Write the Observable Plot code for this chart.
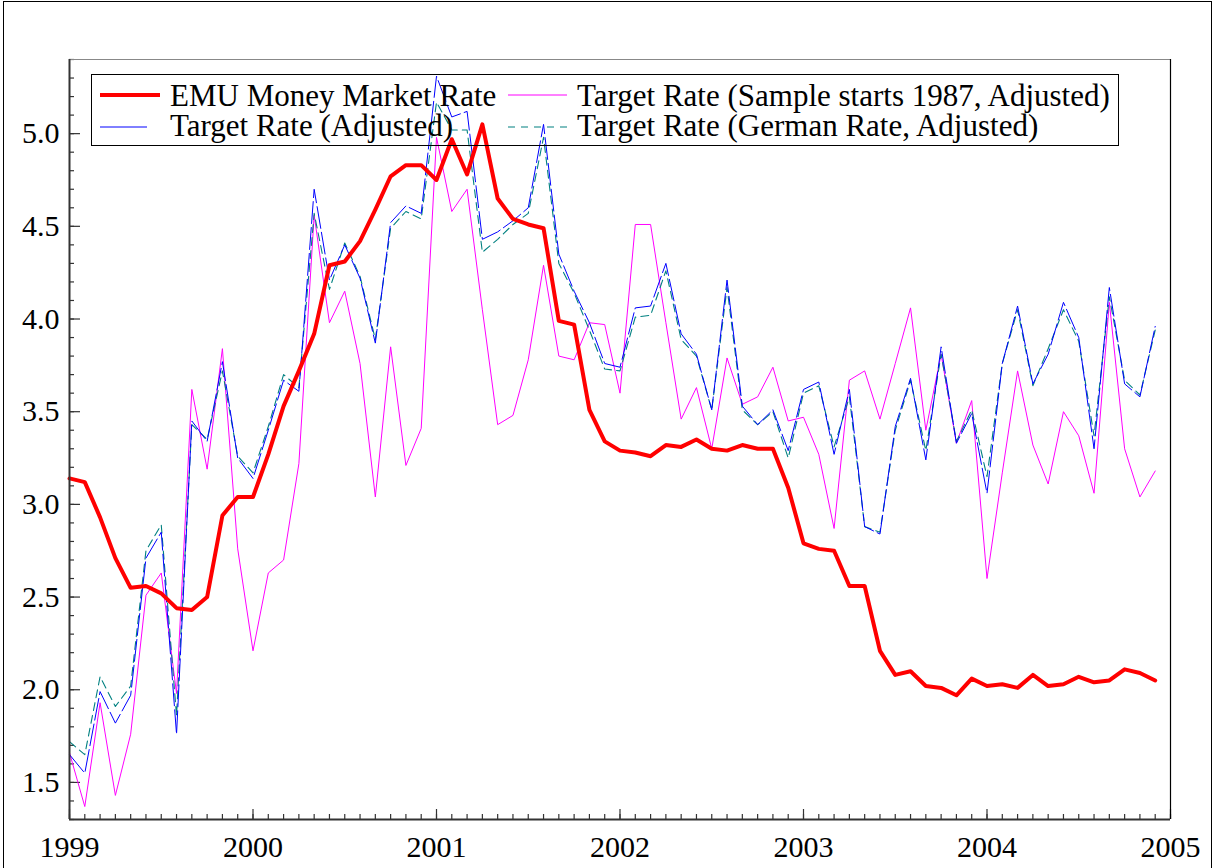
<!DOCTYPE html>
<html>
<head>
<meta charset="utf-8">
<script src="https://cdn.jsdelivr.net/npm/d3@7"></script>
<script src="https://cdn.jsdelivr.net/npm/@observablehq/plot@0.6"></script>
<style>
  html, body { margin: 0; padding: 0; background: #fff; }
  #wrap { position: relative; width: 1213px; height: 868px; overflow: hidden; background: #fff; }
  #chart svg { display: block; }
  #overlay { position: absolute; left: 0; top: 0; pointer-events: none; }
  #border { position: absolute; left: 3px; top: 1px; width: 1207px; height: 900px; border: 1.5px solid #000; pointer-events: none; }
</style>
</head>
<body>
<div id="wrap">
  <div id="chart"></div>
  <svg id="overlay" width="1213" height="868"></svg>
  <div id="border"></div>
</div>
<script>
// ---- Data (monthly, Jan 1999 – Dec 2004) ----
const startYear = 1999;
const emuRate = [
  3.14, 3.12, 2.93, 2.71, 2.55, 2.56, 2.52, 2.44, 2.43, 2.50, 2.94, 3.04,
  3.04, 3.27, 3.53, 3.72, 3.92, 4.29, 4.31, 4.42, 4.59, 4.77, 4.83, 4.83,
  4.75, 4.97, 4.78, 5.05, 4.65, 4.54, 4.51, 4.49, 3.99, 3.97, 3.51, 3.34,
  3.29, 3.28, 3.26, 3.32, 3.31, 3.35, 3.30, 3.29, 3.32, 3.30, 3.30, 3.09,
  2.79, 2.76, 2.75, 2.56, 2.56, 2.21, 2.08, 2.10, 2.02, 2.01, 1.97, 2.06,
  2.02, 2.03, 2.01, 2.08, 2.02, 2.03, 2.07, 2.04, 2.05, 2.11, 2.09, 2.05
];
const targetAdjusted = [
  1.65, 1.55, 1.99, 1.82, 1.97, 2.71, 2.85, 1.76, 3.45, 3.34, 3.77, 3.25,
  3.14, 3.40, 3.67, 3.61, 4.70, 4.21, 4.40, 4.22, 3.87, 4.52, 4.61, 4.57,
  5.31, 5.09, 5.12, 4.43, 4.47, 4.53, 4.60, 5.05, 4.35, 4.15, 3.98, 3.76,
  3.74, 4.06, 4.07, 4.30, 3.92, 3.81, 3.51, 4.21, 3.53, 3.43, 3.51, 3.29,
  3.62, 3.66, 3.27, 3.62, 2.88, 2.84, 3.42, 3.68, 3.24, 3.85, 3.33, 3.49,
  3.06, 3.76, 4.07, 3.65, 3.81, 4.09, 3.90, 3.30, 4.17, 3.65, 3.58, 3.96
];
const targetSample1987 = [
  1.66, 1.37, 1.93, 1.43, 1.76, 2.51, 2.63, 1.98, 3.62, 3.19, 3.84, 2.76,
  2.21, 2.63, 2.70, 3.22, 4.56, 3.98, 4.15, 3.76, 3.04, 3.85, 3.21, 3.41,
  4.98, 4.58, 4.70, 4.05, 3.43, 3.48, 3.78, 4.29, 3.80, 3.78, 3.98, 3.97,
  3.60, 4.51, 4.51, 3.98, 3.46, 3.63, 3.30, 3.79, 3.54, 3.58, 3.74, 3.45,
  3.47, 3.27, 2.87, 3.67, 3.72, 3.46, 3.76, 4.06, 3.40, 3.81, 3.33, 3.56,
  2.60, 3.17, 3.72, 3.32, 3.11, 3.50, 3.37, 3.06, 4.09, 3.30, 3.04, 3.18
];
const targetGerman = [
  1.72, 1.65, 2.07, 1.91, 2.02, 2.75, 2.89, 1.86, 3.43, 3.35, 3.72, 3.26,
  3.17, 3.42, 3.70, 3.63, 4.57, 4.16, 4.41, 4.23, 3.89, 4.49, 4.58, 4.54,
  5.17, 5.02, 5.02, 4.36, 4.43, 4.51, 4.57, 4.98, 4.30, 4.14, 3.94, 3.73,
  3.72, 4.01, 4.02, 4.26, 3.89, 3.80, 3.51, 4.17, 3.51, 3.43, 3.50, 3.25,
  3.60, 3.64, 3.31, 3.58, 2.88, 2.85, 3.40, 3.67, 3.29, 3.81, 3.34, 3.51,
  3.15, 3.76, 4.05, 3.64, 3.84, 4.05, 3.88, 3.37, 4.12, 3.67, 3.59, 3.94
];
const yearTicks = [1999, 2000, 2001, 2002, 2003, 2004, 2005];
const yMajorTicks = [1.5, 2.0, 2.5, 3.0, 3.5, 4.0, 4.5, 5.0];
const legendLabels = [
  "EMU Money Market Rate",
  "Target Rate (Adjusted)",
  "Target Rate (Sample starts 1987, Adjusted)",
  "Target Rate (German Rate, Adjusted)"
];

// ---- Build tables ----
const t = i => startYear + i / 12;
const rows = arr => arr.map((v, i) => ({x: t(i), y: v}));
const monthTicks = d3.range(0, 73).map(t);
const yMinorTicks = d3.range(13, 55).map(i => i / 10);

const font = "'Liberation Serif', 'Times New Roman', serif";
const axisColor = "#333";

const chart = Plot.plot({
  width: 1213,
  height: 868,
  marginLeft: 69,
  marginRight: 43,
  marginTop: 59,
  marginBottom: 49,
  x: {domain: [1999, 2005], label: null},
  y: {domain: [1.3, 5.4], label: null},
  style: {fontFamily: font, fontSize: "30px", color: "#000", background: "#fff"},
  marks: [
    Plot.axisX(monthTicks, {tickSize: -5, tickPadding: 0, tickFormat: () => "", stroke: axisColor, strokeWidth: 1.2}),
    Plot.axisX(yearTicks, {tickSize: -10, tickPadding: 26, tickFormat: d => String(d), stroke: axisColor, strokeWidth: 1.2, fill: "#000"}),
    Plot.axisY(yMinorTicks, {tickSize: -5, tickPadding: 0, tickFormat: () => "", stroke: axisColor, strokeWidth: 1.2}),
    Plot.axisY(yMajorTicks, {tickSize: -11, tickPadding: 21, tickFormat: d => d.toFixed(1), stroke: axisColor, strokeWidth: 1.2, fill: "#000"}),
    Plot.ruleY([5.4], {stroke: "#888", strokeWidth: 1}),
    Plot.ruleX([2005], {stroke: "#000", strokeWidth: 1.2}),
    Plot.line(rows(targetSample1987), {x: "x", y: "y", stroke: "#ff00ff", strokeWidth: 1}),
    Plot.line(rows(targetGerman), {x: "x", y: "y", stroke: "#008080", strokeWidth: 1.1, strokeDasharray: "8,5"}),
    Plot.line(rows(targetAdjusted), {x: "x", y: "y", stroke: "#0000ff", strokeWidth: 1, strokeDasharray: "22,4"}),
    Plot.line(rows(emuRate), {x: "x", y: "y", stroke: "#ff0000", strokeWidth: 4, strokeLinejoin: "round"}),
    Plot.ruleX([1999], {stroke: axisColor, strokeWidth: 2}),
    Plot.ruleY([1.3], {stroke: axisColor, strokeWidth: 2})
  ]
});
document.getElementById("chart").appendChild(chart);

// ---- Legend (inside the plot area, transparent box) ----
const ov = d3.select("#overlay");
ov.append("rect")
  .attr("x", 91.5).attr("y", 74.5).attr("width", 1027).attr("height", 71)
  .attr("fill", "none").attr("stroke", "#000").attr("stroke-width", 1);
const legendItems = [
  {label: legendLabels[0], color: "#ff0000", width: 4, dash: null, x0: 100, x1: 160, ly: 95, tx: 170, ty: 106},
  {label: legendLabels[1], color: "#0000ff", width: 1, dash: null, x0: 100, x1: 147, ly: 127, tx: 170, ty: 136},
  {label: legendLabels[2], color: "#ff00ff", width: 1, dash: null, x0: 508, x1: 567, ly: 95, tx: 577, ty: 106},
  {label: legendLabels[3], color: "#008080", width: 1.1, dash: "7,6", x0: 508, x1: 567, ly: 127, tx: 577, ty: 136}
];
for (const it of legendItems) {
  ov.append("line")
    .attr("x1", it.x0).attr("x2", it.x1).attr("y1", it.ly).attr("y2", it.ly)
    .attr("stroke", it.color).attr("stroke-width", it.width)
    .attr("stroke-dasharray", it.dash);
  ov.append("text")
    .attr("x", it.tx).attr("y", it.ty)
    .attr("font-family", font).attr("font-size", 31).attr("fill", "#000")
    .text(it.label);
}
</script>
</body>
</html>
